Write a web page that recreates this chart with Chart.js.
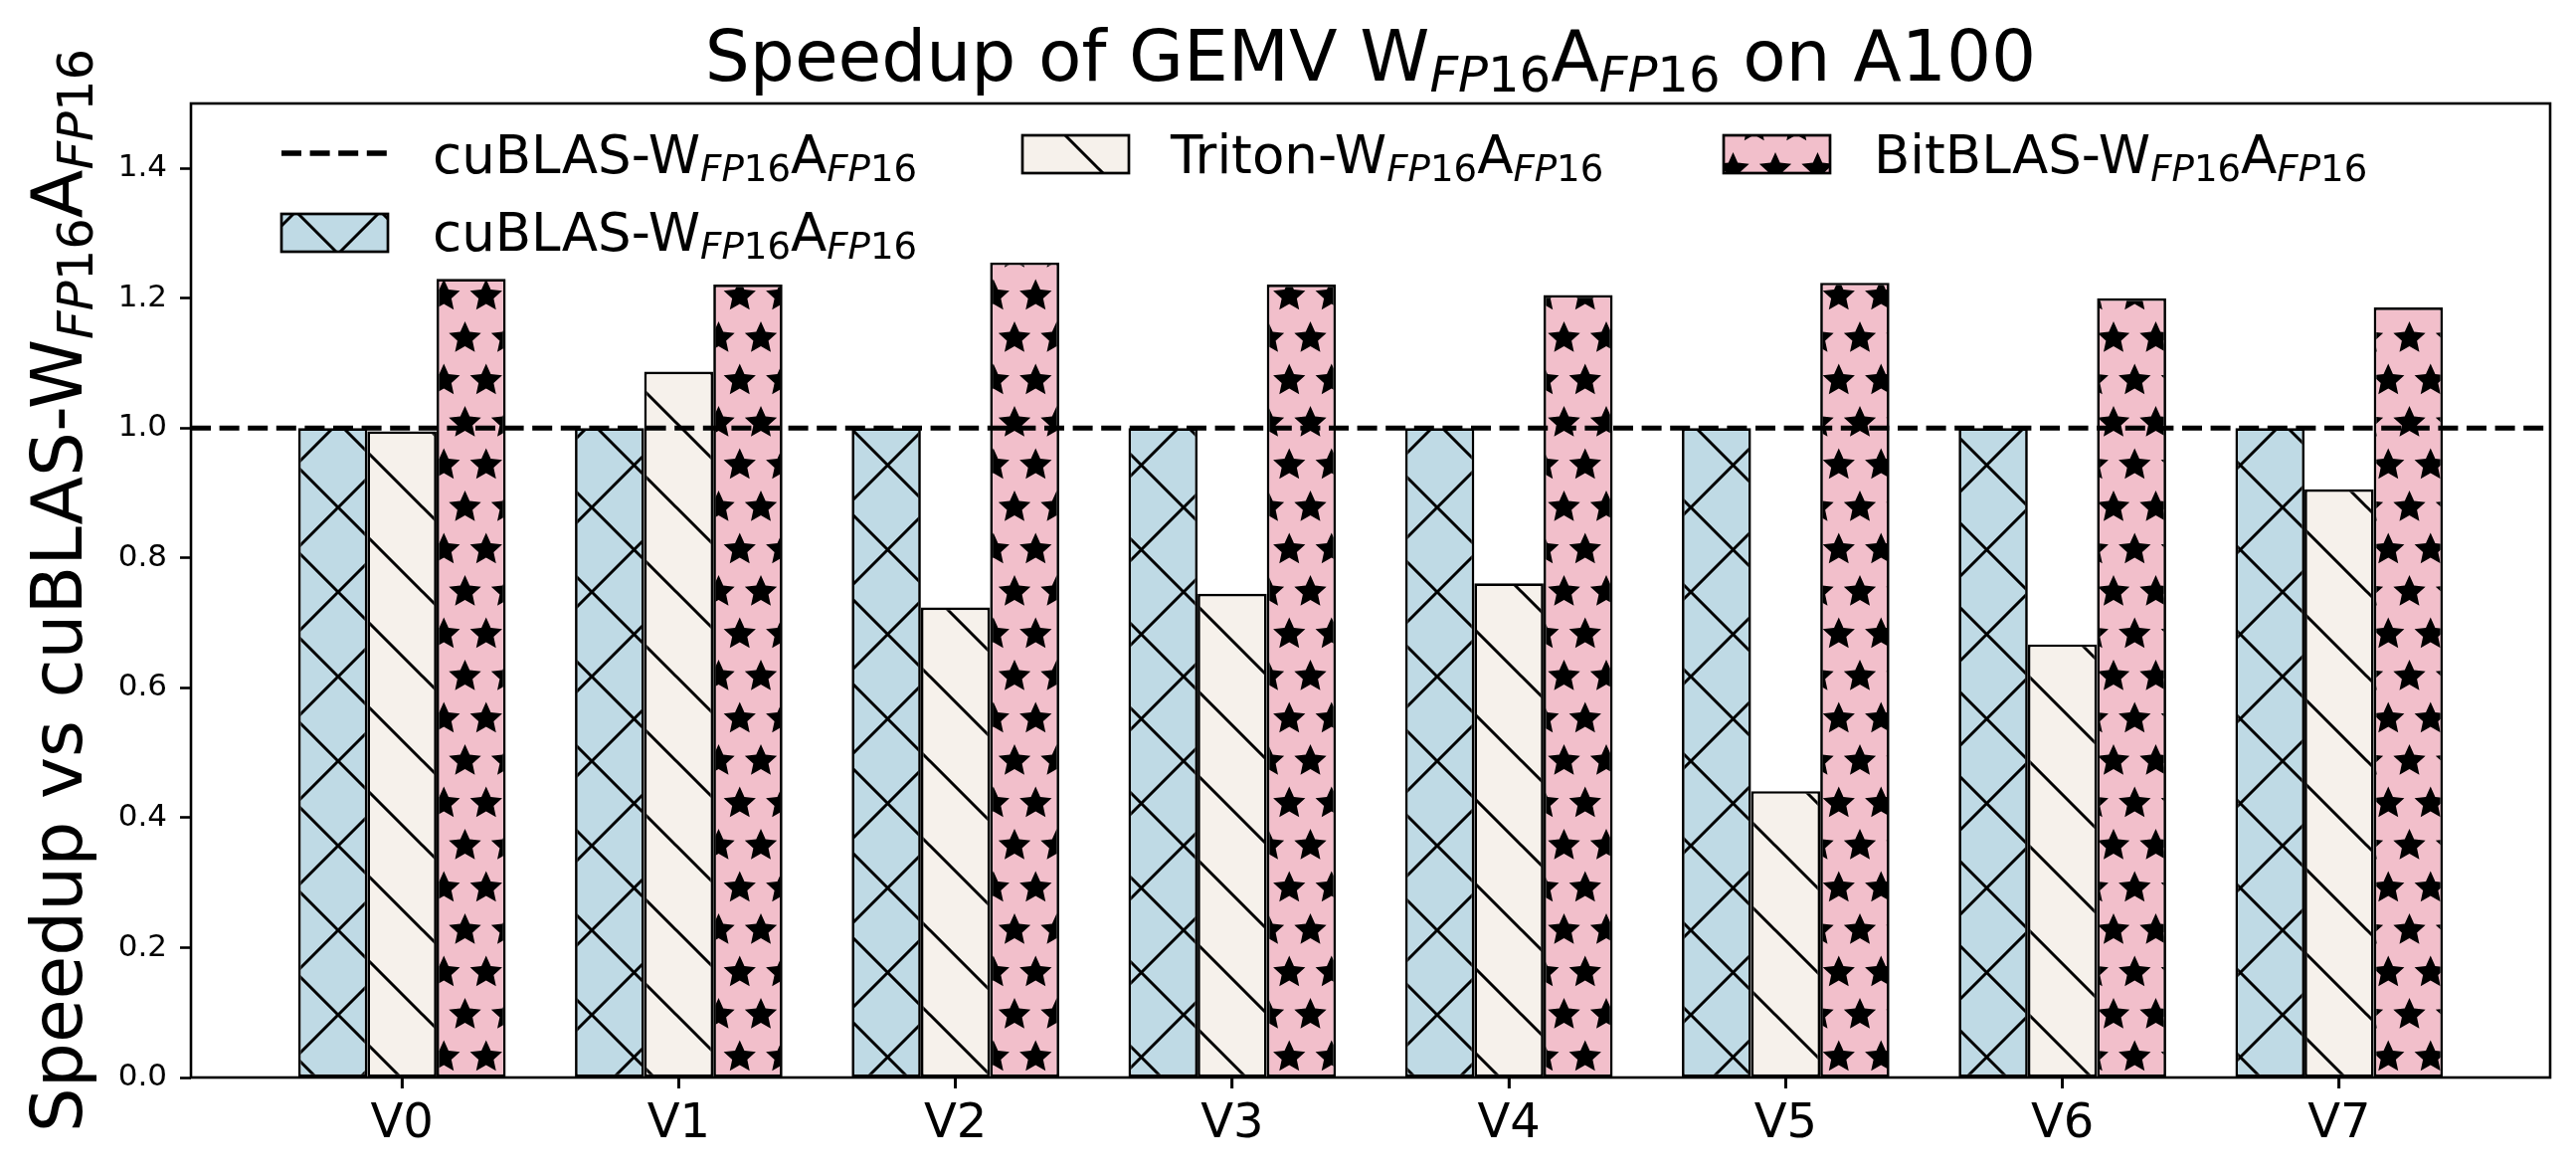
<!DOCTYPE html>
<html>
<head>
<meta charset="utf-8">
<script src="https://cdn.jsdelivr.net/npm/chart.js@4.4.0/dist/chart.umd.min.js"></script>
<style>
html,body{margin:0;padding:0;background:#fff;overflow:hidden}
canvas{display:block}
</style>
</head>
<body>
<canvas id="c" width="2590" height="1182" style="width:2590px;height:1182px"></canvas>
<script>
// ---------------- data ----------------
const categories = ['V0', 'V1', 'V2', 'V3', 'V4', 'V5', 'V6', 'V7'];
const cublasValues = [1.0, 1.0, 1.0, 1.0, 1.0, 1.0, 1.0, 1.0];
const tritonValues = [0.995, 1.087, 0.724, 0.745, 0.761, 0.441, 0.667, 0.906];
const bitblasValues = [1.230, 1.221, 1.255, 1.221, 1.205, 1.224, 1.200, 1.186];
const baselineValue = 1.0;
const baselineName = 'cuBLAS-W_{FP16}A_{FP16}';
const seriesNames = ['cuBLAS-W_{FP16}A_{FP16}', 'Triton-W_{FP16}A_{FP16}', 'BitBLAS-W_{FP16}A_{FP16}'];
const titleText = 'Speedup of GEMV W_{FP16}A_{FP16} on A100';
const yAxisTitle = 'Speedup vs cuBLAS-W_{FP16}A_{FP16}';
const yMin = 0, yMax = 1.5, yStep = 0.2;
const xMin = -0.7625, xMax = 7.7625;

// ---------------- styles ----------------
const FONT = '"DejaVu Sans"';
const colBlue = '#bfdae5', colCream = '#f6f1eb', colPink = '#f2bfcb';
const HATCH = 85;
const TICK_LEN = 11, TICK_W = 2.6;

const canvas = document.getElementById('c');
const ctx = canvas.getContext('2d');

function makeTile() { const c = document.createElement('canvas'); c.width = HATCH; c.height = HATCH; return c; }
function crossPattern(fill, both) {
  const c = makeTile(), g = c.getContext('2d');
  g.fillStyle = fill; g.fillRect(0, 0, HATCH, HATCH);
  g.strokeStyle = '#000'; g.lineWidth = 3; g.lineCap = 'butt';
  g.beginPath();
  for (let k = -1; k <= 2; k++) {
    g.moveTo(-10, -10 + k * HATCH); g.lineTo(HATCH + 10, HATCH + 10 + k * HATCH);
    if (both) { g.moveTo(-10, 10 + k * HATCH); g.lineTo(HATCH + 10, -HATCH - 10 + k * HATCH); }
  }
  g.stroke();
  return ctx.createPattern(c, 'repeat');
}
function drawStar(g, cx, cy, R, r) {
  g.beginPath();
  for (let k = 0; k < 10; k++) {
    const a = -Math.PI / 2 + k * Math.PI / 5;
    const rr = (k % 2 === 0) ? R : r;
    const px = cx + rr * Math.cos(a), py = cy + rr * Math.sin(a);
    if (k === 0) g.moveTo(px, py); else g.lineTo(px, py);
  }
  g.closePath(); g.fill();
}
function starPattern(fill) {
  const c = makeTile(), g = c.getContext('2d');
  g.fillStyle = fill; g.fillRect(0, 0, HATCH, HATCH);
  g.fillStyle = '#000';
  const s = HATCH / 2;
  for (let j = -1; j <= 3; j++) for (let i = -1; i <= 3; i++) {
    drawStar(g, i * s + (j % 2 !== 0 ? s / 2 : 0), j * s, 17, 8);
  }
  return ctx.createPattern(c, 'repeat');
}
const patBlue = crossPattern(colBlue, true);
const patCream = crossPattern(colCream, false);
const patPink = starPattern(colPink);

// ---------------- rich text helpers ----------------
function parseRich(str) {
  const segs = []; const re = /_\{([^}]*)\}/g; let last = 0, m;
  while ((m = re.exec(str))) {
    if (m.index > last) segs.push({ t: str.slice(last, m.index), sub: false, it: false });
    m[1].split(/(\d+)/).filter(Boolean).forEach(p => segs.push({ t: p, sub: true, it: !/^\d+$/.test(p) }));
    last = re.lastIndex;
  }
  if (last < str.length) segs.push({ t: str.slice(last), sub: false, it: false });
  return segs;
}
function setFont(g, s, size) { g.font = (s.it ? 'italic ' : '') + (s.sub ? size * 0.7 : size) + 'px ' + FONT; }
function richWidth(g, segs, size) { let w = 0; for (const s of segs) { setFont(g, s, size); w += g.measureText(s.t).width; } return w; }
function drawRich(g, segs, x, y, size) {
  g.textAlign = 'left'; g.textBaseline = 'alphabetic'; g.fillStyle = '#000';
  let cx = x;
  for (const s of segs) { setFont(g, s, size); g.fillText(s.t, cx, y + (s.sub ? size * 0.16 : 0)); cx += g.measureText(s.t).width; }
}
const plainLabel = s => s.replace(/_\{([^}]*)\}/g, '$1');

// ---------------- plugins ----------------
const framePlugin = {
  id: 'frame',
  afterDatasetsDraw(chart) {
    const { ctx: g, chartArea: a, scales } = chart;
    g.save(); g.strokeStyle = '#000'; g.lineWidth = 2.6;
    g.strokeRect(a.left, a.top, a.right - a.left, a.bottom - a.top);
    // x tick marks (outside, below the axis)
    g.lineWidth = TICK_W; g.beginPath();
    categories.forEach((c, i) => {
      const px = scales.x.getPixelForValue(i);
      g.moveTo(px, a.bottom); g.lineTo(px, a.bottom + TICK_LEN);
    });
    g.stroke();
    g.restore();
  }
};
const textPlugin = {
  id: 'richText',
  afterDraw(chart) {
    const { ctx: g, chartArea: a } = chart;
    g.save();
    // title
    const tSegs = parseRich(titleText);
    const tw = richWidth(g, tSegs, 71);
    drawRich(g, tSegs, (a.left + a.right) / 2 - tw / 2, 81, 71);
    // y axis title
    const ySegs = parseRich(yAxisTitle);
    const yw = richWidth(g, ySegs, 71);
    g.save(); g.translate(82, (a.top + a.bottom) / 2); g.rotate(-Math.PI / 2);
    drawRich(g, ySegs, -yw / 2, 0, 71); g.restore();
    // legend
    const LS = 53;
    g.save(); g.strokeStyle = '#000'; g.lineWidth = 5.5; g.setLineDash([20, 8.6]);
    g.beginPath(); g.moveTo(283, 154); g.lineTo(389, 154); g.stroke(); g.restore();
    drawRich(g, parseRich(baselineName), 435, 174, LS);
    const boxes = [
      { x: 283, y: 215, pat: patBlue, tx: 435, ty: 252, label: seriesNames[0] },
      { x: 1028, y: 136, pat: patCream, tx: 1177, ty: 174, label: seriesNames[1] },
      { x: 1733, y: 136, pat: patPink, tx: 1884, ty: 174, label: seriesNames[2] }
    ];
    for (const b of boxes) {
      g.fillStyle = b.pat; g.fillRect(b.x, b.y, 107, 38);
      g.strokeStyle = '#000'; g.lineWidth = 2.7; g.strokeRect(b.x, b.y, 107, 38);
      drawRich(g, parseRich(b.label), b.tx, b.ty, LS);
    }
    g.restore();
  }
};

// ---------------- chart ----------------
const toPoints = vals => categories.map((c, i) => ({ x: i, y: vals[i] }));
const barCommon = { borderColor: '#000', borderWidth: 2.7, borderSkipped: false, order: 1, categoryPercentage: 0.75, barPercentage: 1 };

new Chart(ctx, {
  type: 'bar',
  data: {
    datasets: [
      { type: 'line', label: plainLabel(baselineName), data: [{ x: xMin, y: baselineValue }, { x: xMax, y: baselineValue }],
        borderColor: '#000', borderWidth: 5, borderDash: [20, 8.6], pointRadius: 0, fill: false, tension: 0, order: 0 },
      Object.assign({ label: plainLabel(seriesNames[0]), data: toPoints(cublasValues), backgroundColor: patBlue }, barCommon),
      Object.assign({ label: plainLabel(seriesNames[1]), data: toPoints(tritonValues), backgroundColor: patCream }, barCommon),
      Object.assign({ label: plainLabel(seriesNames[2]), data: toPoints(bitblasValues), backgroundColor: patPink }, barCommon)
    ]
  },
  options: {
    responsive: false, animation: false, devicePixelRatio: 1,
    layout: { padding: { left: 0, right: 26, top: 104, bottom: 0 } },
    plugins: { legend: { display: false }, title: { display: false }, tooltip: { enabled: false } },
    scales: {
      x: {
        type: 'linear', min: xMin, max: xMax, offset: false,
        afterBuildTicks: s => { s.ticks = categories.map((c, i) => ({ value: i })); },
        ticks: { stepSize: 1, includeBounds: false, autoSkip: false, maxRotation: 0, minRotation: 0,
          callback: v => (Number.isInteger(v) && categories[v] !== undefined) ? categories[v] : '',
          font: { family: 'DejaVu Sans', size: 48 }, color: '#000', padding: 8 },
        grid: { display: true, offset: false, drawOnChartArea: false, drawTicks: true, tickLength: TICK_LEN, tickWidth: TICK_W, tickColor: '#000' },
        border: { display: false },
        afterFit: s => { s.height = 99; }
      },
      y: {
        min: yMin, max: yMax,
        ticks: { stepSize: yStep, includeBounds: false, callback: v => v.toFixed(1),
          font: { family: 'DejaVu Sans', size: 31 }, color: '#000', padding: 13 },
        grid: { display: true, offset: false, drawOnChartArea: false, drawTicks: true, tickLength: TICK_LEN, tickWidth: TICK_W, tickColor: '#000' },
        border: { display: false },
        afterFit: s => { s.width = 192; }
      }
    }
  },
  plugins: [framePlugin, textPlugin]
});
</script>
</body>
</html>
